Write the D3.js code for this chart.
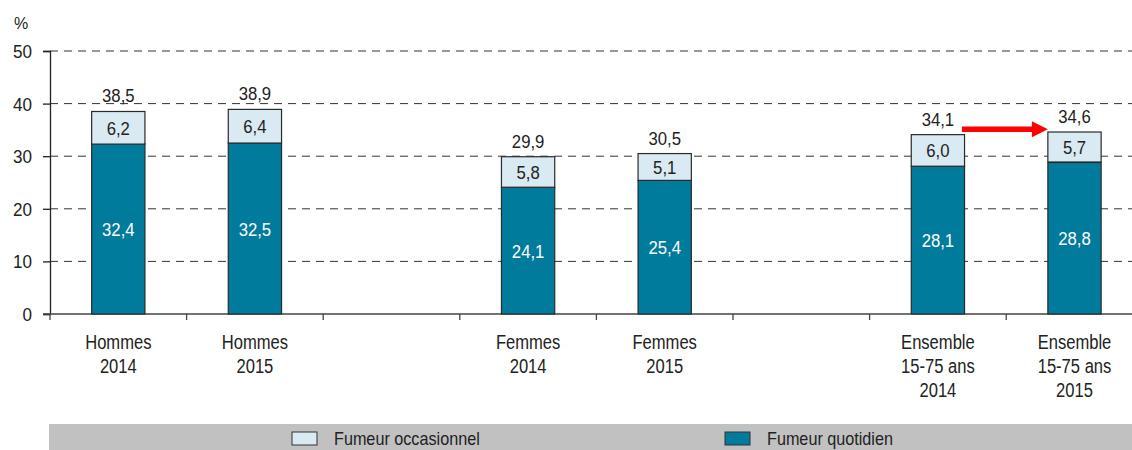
<!DOCTYPE html>
<html>
<head>
<meta charset="utf-8">
<script src="https://cdn.jsdelivr.net/npm/d3@7"></script>
<style>
  body { margin: 0; background: #fff; }
  text { font-family: "Liberation Sans", Arial, sans-serif; fill: #222; }
</style>
</head>
<body>
<div id="chart-area"></div>
<script>
// data
const categories = [
  ["Hommes", "2014"], ["Hommes", "2015"],
  ["Femmes", "2014"], ["Femmes", "2015"],
  ["Ensemble", "15-75 ans", "2014"], ["Ensemble", "15-75 ans", "2015"]
];
const quotidien = [32.4, 32.5, 24.1, 25.4, 28.1, 28.8];
const occasionnel = [6.2, 6.4, 5.8, 5.1, 6.0, 5.7];
const totals = [38.5, 38.9, 29.9, 30.5, 34.1, 34.6];
const yTicks = [0, 10, 20, 30, 40, 50];
const seriesNames = ["Fumeur occasionnel", "Fumeur quotidien"];
const colors = ["#d9eaf2", "#007b9c"];

const width = 1132, height = 450;

// slots: each pair of bars, followed by an empty slot
const keys = [];
categories.forEach((c, i) => {
  keys.push("c" + i);
  if (i % 2 == 1 && i < categories.length - 1) keys.push("gap" + i);
});
keys.push("gapEnd");

const svg = d3.select("#chart-area").append("svg")
  .attr("width", width)
  .attr("height", height);

const x0 = 50, step = 136.6;
const x = d3.scaleBand()
  .domain(keys)
  .range([x0, x0 + step * keys.length])
  .paddingInner(0.61)
  .paddingOuter(0.305);

const y = d3.scaleLinear()
  .domain([0, 50])
  .range([314, 51]);

// condensed look: squeeze text horizontally
function narrowText(px, py, size, sx, str) {
  return svg.append("text")
    .attr("transform", `translate(${px},${py}) scale(${sx},1)`)
    .attr("text-anchor", "middle")
    .attr("font-size", size)
    .text(str);
}

// gridlines
svg.selectAll(".grid")
  .data(yTicks.filter(d => d > 0))
  .enter().append("line")
  .attr("x1", x0)
  .attr("x2", width)
  .attr("y1", d => y(d))
  .attr("y2", d => y(d))
  .attr("stroke", "#333")
  .attr("stroke-width", 1)
  .attr("stroke-dasharray", "8,6");

// y axis
const yAxis = svg.append("g")
  .attr("transform", `translate(${x0},0)`)
  .call(d3.axisLeft(y).tickValues(yTicks).tickSize(7).tickFormat(d3.format("d")));
yAxis.select(".domain").attr("stroke", "#222").attr("stroke-width", 1.3);
yAxis.selectAll(".tick line").attr("stroke", "#222").attr("stroke-width", 1.3);
yAxis.selectAll(".tick text")
  .attr("x", 0)
  .attr("dy", null)
  .attr("transform", "translate(-18,6.5) scale(0.95,1)")
  .attr("font-size", 18)
  .style("font-family", "'Liberation Sans', Arial, sans-serif")
  .attr("fill", "#222");

svg.append("text")
  .attr("x", 14)
  .attr("y", 29)
  .attr("font-size", 16)
  .text("%");

// x axis line and boundary ticks
svg.append("line")
  .attr("x1", x0 - 7)
  .attr("x2", width)
  .attr("y1", y(0))
  .attr("y2", y(0))
  .attr("stroke", "#444")
  .attr("stroke-width", 1.5);

const bounds = keys.map(k => x(k) - x.paddingOuter() * x.step());
svg.selectAll(".xtick")
  .data(bounds)
  .enter().append("line")
  .attr("x1", d => d)
  .attr("x2", d => d)
  .attr("y1", y(0))
  .attr("y2", y(0) + 6)
  .attr("stroke", "#444")
  .attr("stroke-width", 1.3);

const rows = categories.map((c, i) => ({
  key: "c" + i, label: c, q: quotidien[i], o: occasionnel[i], t: totals[i]
}));

// daily smoker bars
svg.selectAll(".bar-q")
  .data(rows)
  .enter().append("rect")
  .attr("x", d => x(d.key))
  .attr("width", x.bandwidth())
  .attr("y", d => y(d.q))
  .attr("height", d => y(0) - y(d.q))
  .attr("fill", colors[1])
  .attr("stroke", "#2a2a2a")
  .attr("stroke-width", 1.2);

// occasional smoker bars
svg.selectAll(".bar-o")
  .data(rows)
  .enter().append("rect")
  .attr("x", d => x(d.key))
  .attr("width", x.bandwidth())
  .attr("y", d => y(d.t))
  .attr("height", d => y(d.t - d.o) - y(d.t))
  .attr("fill", colors[0])
  .attr("stroke", "#2a2a2a")
  .attr("stroke-width", 1.2);

const fmt = v => d3.format(".1f")(v).replace(".", ",");
const cx = d => x(d.key) + x.bandwidth() / 2;

rows.forEach(d => {
  narrowText(cx(d), y(d.q / 2) + 7, 19, 0.88, fmt(d.q)).style("fill", "#fff");
  narrowText(cx(d), y(d.t - d.o / 2) + 7, 19, 0.88, fmt(d.o));
  narrowText(cx(d), y(d.t) - 9, 19, 0.88, fmt(d.t));
  // category labels
  d.label.forEach((line, j) => {
    narrowText(cx(d), 349 + j * 24, 19.5, 0.85, line);
  });
});

// red arrow between the two "Ensemble" totals
const a = rows[4], b = rows[5];
const ay = y(35.1);
const ax1 = cx(a) + 24, ax2 = x(b.key);
svg.append("line")
  .attr("x1", ax1)
  .attr("x2", ax2 - 14)
  .attr("y1", ay)
  .attr("y2", ay)
  .attr("stroke", "#f00")
  .attr("stroke-width", 5.5);
svg.append("path")
  .attr("d", `M${ax2 - 16},${ay - 8} L${ax2},${ay} L${ax2 - 16},${ay + 8} Z`)
  .attr("fill", "#f00");

// legend band
svg.append("rect")
  .attr("x", 49)
  .attr("y", 424)
  .attr("width", width - 49)
  .attr("height", 26)
  .attr("fill", "#c1c1c1");

const legendX = [292, 725];
seriesNames.forEach((name, i) => {
  svg.append("rect")
    .attr("x", legendX[i])
    .attr("y", 432)
    .attr("width", 25)
    .attr("height", 13)
    .attr("fill", colors[i])
    .attr("stroke", "#333")
    .attr("stroke-width", 1);
  svg.append("text")
    .attr("transform", `translate(${legendX[i] + 42},445) scale(0.9,1)`)
    .attr("font-size", 18)
    .text(name);
});
</script>
</body>
</html>
